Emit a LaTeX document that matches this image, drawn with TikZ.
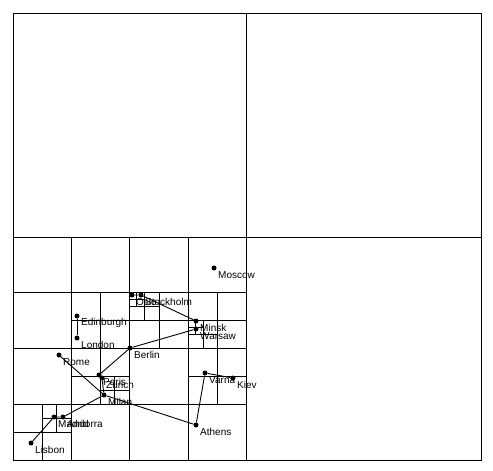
\documentclass[tikz,border=0pt]{standalone}
\usepackage{fontspec}
\setmainfont{Liberation Sans}
\tikzset{
  x=1pt,y=-1pt,
  grid/.style={draw=black,line width=1pt},
  link/.style={draw=black,line width=0.9pt},
  city/.style={circle,fill=black,inner sep=0pt,minimum size=5pt},
  cityname/.style={anchor=west,inner sep=0pt,font=\fontsize{10}{12}\selectfont}
}
\begin{document}
\begin{tikzpicture}
\useasboundingbox (0,0) rectangle (493,471);
% quadtree cells
\draw[grid] (13,13) rectangle (481.5,460);
\draw[grid] (246,13) -- (246,460);
\draw[grid] (13,237) -- (481.5,237);
\draw[grid] (129,237) -- (129,460);
\draw[grid] (13,348) -- (246,348);
\draw[grid] (71,237) -- (71,348);
\draw[grid] (188,237) -- (188,460);
\draw[grid] (13,292) -- (246,292);
\draw[grid] (100,292) -- (100,348);
\draw[grid] (71,320) -- (246,320);
\draw[grid] (159,292) -- (159,348);
\draw[grid] (217,292) -- (217,404);
\draw[grid] (129,306) -- (159,306);
\draw[grid] (144,292) -- (144,320);
\draw[grid] (136.5,292) -- (136.5,306);
\draw[grid] (129,299) -- (144,299);
\draw[grid] (188,334) -- (217,334);
\draw[grid] (203,320) -- (203,348);
\draw[grid] (188,327) -- (203,327);
\draw[grid] (195.5,320) -- (195.5,334);
\draw[grid] (13,404) -- (246,404);
\draw[grid] (71,348) -- (71,460);
\draw[grid] (100,348) -- (100,404);
\draw[grid] (71,376) -- (129,376);
\draw[grid] (188,376) -- (246,376);
\draw[grid] (42,404) -- (42,460);
\draw[grid] (13,432) -- (71,432);
\draw[grid] (42,418) -- (71,418);
\draw[grid] (56.5,404) -- (56.5,432);
\draw[grid] (100,390) -- (129,390);
\draw[grid] (114.5,376) -- (114.5,404);
% cities
\foreach \n/\t/\x/\y in {mos/Moscow/214/268,sto/Stockholm/141/295,osl/Oslo/132/295,edi/Edinburgh/77/316,lon/London/77/338,ber/Berlin/130/348,min/Minsk/196/321,war/Warsaw/196/329,rom/Rome/59/355,par/Paris/99/375,zur/Zurich/102/378,mil/Milan/104/395,and/Andorra/63/417,mad/Madrid/54/417,lis/Lisbon/31/443,ath/Athens/196/425,var/Varna/205/373,kie/Kiev/233/378}{
  \node[city] (\n) at (\x,\y) {};
  \node[cityname] (\n-t) at (\x+4,\y+7.3) {\t};
}
% connectors
\draw[link] (edi) -- (lon);
\draw[link] (osl) -- (sto) -- (min);
\draw[link] (war) -- (ber) -- (par) -- (zur) -- (mil);
\draw[link] (rom) -- (mil) -- (ath) -- (var) -- (kie);
\draw[link] (lis) -- (mad) -- (and) -- (mil);
\end{tikzpicture}
\end{document}
